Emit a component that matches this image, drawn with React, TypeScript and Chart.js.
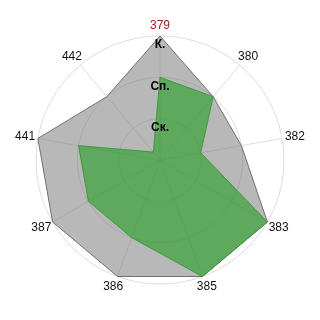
import React, { useEffect, useRef } from "react";
import { Chart, registerables } from "chart.js";

Chart.register(...registerables);

const categories = ["379", "380", "382", "383", "385", "386", "387", "441", "442"];
const seriesGray = [3, 2, 2, 3, 3, 3, 3, 3, 2];
const seriesGreen = [2, 2, 1, 3, 3, 2, 2, 2, 0.25];
const tickLabels: Record<number, string> = { 1: "Ск.", 2: "Сп.", 3: "К." };
const labelColors = ["#9e1f24", "#111", "#111", "#111", "#111", "#111", "#111", "#111", "#111"];

const pointLabelPlugin = {
  id: "centeredPointLabels",
  afterDraw(chart: any) {
    const s = chart.scales.r;
    const ctx = chart.ctx;
    ctx.save();
    ctx.font = "12px 'Liberation Sans', Arial, sans-serif";
    ctx.textAlign = "center";
    ctx.textBaseline = "middle";
    categories.forEach((lab, i) => {
      const p = s.getPointPosition(i, s.drawingArea);
      const x = p.x + 13 * Math.cos(p.angle);
      const y = p.y + 10.5 * Math.sin(p.angle);
      ctx.fillStyle = labelColors[i];
      ctx.fillText(lab, x, y);
    });
    ctx.restore();
  },
};

export default function App() {
  const ref = useRef<HTMLCanvasElement | null>(null);
  useEffect(() => {
    if (!ref.current) return;
    const chart = new Chart(ref.current, {
      type: "radar",
      data: {
        labels: categories,
        datasets: [
          {
            label: "green",
            data: seriesGreen,
            backgroundColor: "rgba(40,160,40,0.62)",
            borderColor: "#3a9a3a",
            borderWidth: 1,
            pointRadius: 0,
            fill: true,
          },
          {
            label: "gray",
            data: seriesGray,
            backgroundColor: "rgba(128,128,128,0.56)",
            borderColor: "#707070",
            borderWidth: 1,
            pointRadius: 0,
            fill: true,
          },
        ],
      },
      options: {
        animation: false,
        responsive: false,
        layout: { padding: 30 },
        plugins: { legend: { display: false }, tooltip: { enabled: false } },
        scales: {
          r: {
            min: 0,
            max: 3,
            beginAtZero: true,
            grid: { circular: true, color: "#dcdcdc", lineWidth: 1 },
            angleLines: { color: "#dcdcdc", lineWidth: 1 },
            pointLabels: { display: false },
            ticks: {
              stepSize: 1,
              z: 1,
              showLabelBackdrop: false,
              backdropPadding: 0,
              color: "#000",
              font: { family: "'Liberation Sans', Arial, sans-serif", size: 12, weight: "bold", lineHeight: 0.75 },
              callback: (v: any) => (tickLabels[v] ? ["", tickLabels[v]] : ""),
            },
          },
        },
      },
      plugins: [pointLabelPlugin],
    });
    return () => chart.destroy();
  }, []);
  return (
    <div style={{ position: "fixed", left: 0, top: 0, width: 320, height: 320, background: "#fff" }}>
      <canvas ref={ref} width={320} height={320} />
    </div>
  );
}
